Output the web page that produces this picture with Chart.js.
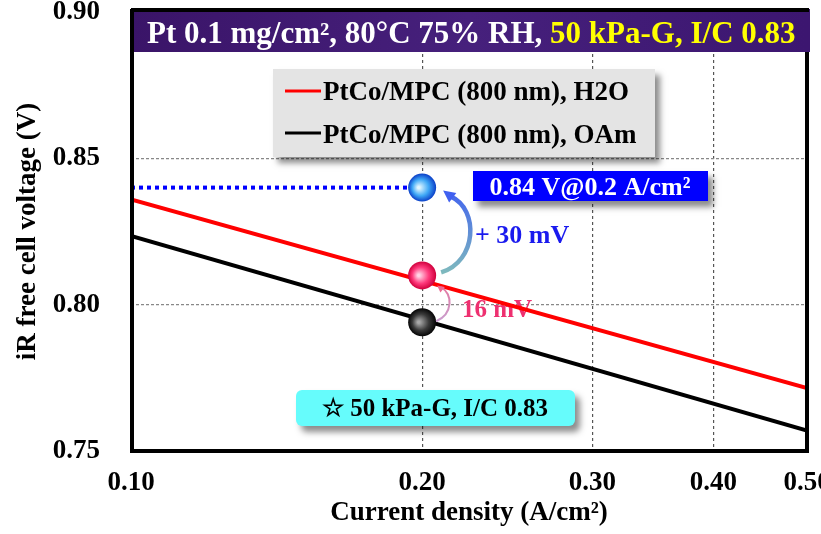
<!DOCTYPE html>
<html>
<head>
<meta charset="utf-8">
<script src="https://cdn.jsdelivr.net/npm/chart.js@4.4.0/dist/chart.umd.min.js"></script>
<style>
  html, body { margin: 0; padding: 0; background: #fff; }
  #wrap { width: 821px; height: 534px; }
</style>
</head>
<body>
<div id="wrap"><canvas id="chart" width="821" height="534"></canvas></div>
<script>
// ─────────────────────────────────────────────────────────────
// DATA
// ─────────────────────────────────────────────────────────────
const xTicks      = [0.10, 0.20, 0.30, 0.40, 0.50];
const xTickLabels = ['0.10', '0.20', '0.30', '0.40', '0.50'];
const yTicks      = [0.75, 0.80, 0.85, 0.90];
const yTickLabels = ['0.75', '0.80', '0.85', '0.90'];

const seriesLabels = ['PtCo/MPC (800 nm), H2O', 'PtCo/MPC (800 nm), OAm'];
const lineX  = [0.10, 0.50];
const h2oV   = [0.836, 0.7715];
const oamV   = [0.8235, 0.757];

const targetX = [0.10, 0.20];
const targetV = [0.84, 0.84];

const markerX = [0.20, 0.20, 0.20];
const markerV = [0.840, 0.810, 0.794];   // target, H2O, OAm

const titleWhite  = 'Pt 0.1 mg/cm\u00B2, 80\u00B0C 75% RH, ';
const titleYellow = '50 kPa-G, I/C 0.83';
const valueNote   = '0.84 V@0.2 A/cm\u00B2';
const gainNote    = '+ 30 mV';
const diffNote    = '16 mV';
const condNote    = '\u2606 50 kPa-G, I/C 0.83';

// ─────────────────────────────────────────────────────────────
// HELPERS
// ─────────────────────────────────────────────────────────────
const SERIF = "'Liberation Serif', 'Times New Roman', serif";
const pts = (xs, ys) => xs.map((x, i) => ({ x, y: ys[i] }));

function noPad(s) {
  s.paddingLeft = 0; s.paddingRight = 0; s.paddingTop = 0; s.paddingBottom = 0;
}

function sphere(ctx, x, y, r, c0, c1, c2) {
  const g = ctx.createRadialGradient(x - r * 0.25, y, r * 0.08, x, y, r);
  g.addColorStop(0, c0);
  g.addColorStop(0.55, c1);
  g.addColorStop(1, c2);
  ctx.beginPath();
  ctx.arc(x, y, r, 0, Math.PI * 2);
  ctx.fillStyle = g;
  ctx.fill();
}

function shadowOn(ctx) {
  ctx.shadowColor = 'rgba(0,0,0,0.45)';
  ctx.shadowBlur = 6;
  ctx.shadowOffsetX = 5;
  ctx.shadowOffsetY = 6;
}

function arrowHead(ctx, x, y, ang, len, wid) {
  ctx.beginPath();
  ctx.moveTo(x, y);
  ctx.lineTo(x - len * Math.cos(ang) + wid * Math.sin(ang), y - len * Math.sin(ang) - wid * Math.cos(ang));
  ctx.lineTo(x - len * Math.cos(ang) - wid * Math.sin(ang), y - len * Math.sin(ang) + wid * Math.cos(ang));
  ctx.closePath();
  ctx.fill();
}

// ─────────────────────────────────────────────────────────────
// DECORATION PLUGIN
// ─────────────────────────────────────────────────────────────
const decor = {
  id: 'decor',
  beforeDatasetsDraw(chart) {
    const { ctx, chartArea: a } = chart;
    ctx.save();

    // title band
    const band = ctx.createLinearGradient(a.left, 0, a.right, 0);
    band.addColorStop(0, '#3a1468');
    band.addColorStop(0.5, '#46207c');
    band.addColorStop(1, '#3c1670');
    ctx.fillStyle = band;
    ctx.fillRect(a.left, 9, a.right - a.left + 3, 43);
    ctx.font = `bold 31px ${SERIF}`;
    ctx.textBaseline = 'alphabetic';
    ctx.textAlign = 'left';
    ctx.fillStyle = '#ffffff';
    ctx.fillText(titleWhite, 147, 43);
    const w = ctx.measureText(titleWhite).width;
    ctx.fillStyle = '#ffff00';
    ctx.fillText(titleYellow, 147 + w, 43);

    // legend box
    ctx.save();
    shadowOn(ctx);
    ctx.fillStyle = '#e4e4e4';
    ctx.fillRect(273, 69, 382, 88);
    ctx.restore();
    ctx.lineWidth = 3;
    ctx.strokeStyle = '#ff0000';
    ctx.beginPath(); ctx.moveTo(285, 91); ctx.lineTo(321, 91); ctx.stroke();
    ctx.strokeStyle = '#000000';
    ctx.beginPath(); ctx.moveTo(285, 133); ctx.lineTo(321, 133); ctx.stroke();
    ctx.font = `bold 27px ${SERIF}`;
    ctx.fillStyle = '#000';
    ctx.fillText(seriesLabels[0], 323, 100);
    ctx.fillText(seriesLabels[1], 323, 143);

    // value box
    ctx.save();
    shadowOn(ctx);
    ctx.fillStyle = '#0000ff';
    ctx.fillRect(473, 171, 235, 30);
    ctx.restore();
    ctx.font = `bold 26px ${SERIF}`;
    ctx.fillStyle = '#ffffff';
    ctx.textAlign = 'center';
    ctx.fillText(valueNote, 590, 195);

    // condition box
    ctx.save();
    shadowOn(ctx);
    ctx.fillStyle = '#66fcfc';
    ctx.beginPath();
    ctx.roundRect(296, 390, 279, 36, 6);
    ctx.fill();
    ctx.restore();
    ctx.fillStyle = '#000';
    ctx.font = `bold 25px ${SERIF}`;
    ctx.fillText(condNote, 435, 416);

    // difference labels
    ctx.textAlign = 'left';
    ctx.font = `bold 26px ${SERIF}`;
    ctx.fillStyle = '#1a1aee';
    ctx.fillText(gainNote, 475, 243);
    ctx.font = `bold 25px ${SERIF}`;
    ctx.fillStyle = '#ee3070';
    ctx.fillText(diffNote, 462, 317);

    ctx.restore();
  },
  afterDatasetsDraw(chart) {
    const { ctx, chartArea: a } = chart;
    const m = chart.getDatasetMeta(3).data;
    const [b, r, k] = m;
    ctx.save();

    // frame
    ctx.strokeStyle = '#000';
    ctx.lineWidth = 4;
    ctx.beginPath();
    ctx.moveTo(a.left + 1, 9);
    ctx.lineTo(a.left + 1, a.bottom);
    ctx.lineTo(a.right, a.bottom);
    ctx.lineTo(a.right, 52);
    ctx.stroke();
    ctx.beginPath();
    ctx.moveTo(a.left, 10);
    ctx.lineTo(a.right + 2, 10);
    ctx.stroke();

    // spheres
    sphere(ctx, b.x, b.y, 14, '#e0f6ff', '#3fa8f6', '#0b3fc8');
    sphere(ctx, r.x, r.y, 14, '#ffd4e6', '#ff3b7d', '#d0003c');
    sphere(ctx, k.x, k.y, 14, '#a8a8a8', '#3a3a3a', '#050505');

    // +30 mV arrow
    const g = ctx.createLinearGradient(0, r.y, 0, b.y);
    g.addColorStop(0, '#80bcbc');
    g.addColorStop(1, '#4060f0');
    ctx.strokeStyle = g;
    ctx.lineWidth = 4.5;
    ctx.beginPath();
    ctx.moveTo(r.x + 19, r.y - 3);
    ctx.bezierCurveTo(r.x + 55, r.y - 14, r.x + 57, b.y + 22, r.x + 29, b.y + 9);
    ctx.stroke();
    ctx.fillStyle = '#4060f0';
    arrowHead(ctx, r.x + 21, b.y + 3, Math.atan2(-6, -8), 12, 6);

    // 16 mV arrow
    const g2 = ctx.createLinearGradient(0, k.y, 0, r.y);
    g2.addColorStop(0, '#c8a0d0');
    g2.addColorStop(1, '#ec6a92');
    ctx.strokeStyle = g2;
    ctx.lineWidth = 2;
    ctx.beginPath();
    ctx.moveTo(k.x + 14, k.y - 1);
    ctx.bezierCurveTo(k.x + 31, k.y - 8, k.x + 31, r.y + 18, k.x + 19, r.y + 12);
    ctx.stroke();
    ctx.fillStyle = '#ec6a92';
    arrowHead(ctx, k.x + 15, r.y + 10, Math.atan2(-4, -5), 7, 3.5);

    ctx.restore();
  }
};

// ─────────────────────────────────────────────────────────────
// CHART
// ─────────────────────────────────────────────────────────────
const tickFont = { family: SERIF, size: 27, weight: 'bold' };

new Chart(document.getElementById('chart'), {
  type: 'line',
  data: {
    datasets: [
      { label: seriesLabels[0], data: pts(lineX, h2oV), borderColor: '#ff0000', borderWidth: 4, pointRadius: 0 },
      { label: seriesLabels[1], data: pts(lineX, oamV), borderColor: '#000000', borderWidth: 4, pointRadius: 0 },
      { label: 'target', data: pts(targetX, targetV), borderColor: '#0000ff', borderWidth: 4, borderDash: [4, 4], pointRadius: 0 },
      { label: 'markers', data: pts(markerX, markerV), showLine: false, pointRadius: 0 },
    ]
  },
  options: {
    responsive: false,
    animation: false,
    layout: { padding: { left: 0, right: 14, top: 12, bottom: 0 }, autoPadding: false },
    plugins: { legend: { display: false }, tooltip: { enabled: false } },
    scales: {
      x: {
        type: 'logarithmic',
        min: 0.1, max: 0.5,
        afterBuildTicks: s => { s.ticks = xTicks.map(v => ({ value: v })); },
        afterFit: s => { s.height = 83; noPad(s); },
        ticks: {
          callback: (v, i) => xTickLabels[i],
          font: tickFont, color: '#000', padding: 16,
          maxRotation: 0, autoSkip: false,
        },
        grid: {
          color: c => (c.index === 0 || c.index === xTicks.length - 1) ? 'rgba(0,0,0,0)' : '#555',
          lineWidth: 1.2, drawTicks: false,
        },
        border: { display: false, dash: [3, 3] },
        title: {
          display: true, text: 'Current density (A/cm\u00B2)', color: '#000',
          font: tickFont, padding: { top: 0, bottom: 5 },
        },
      },
      y: {
        min: 0.75, max: 0.90,
        afterBuildTicks: s => { s.ticks = yTicks.map(v => ({ value: v })); },
        afterFit: s => { s.width = 131; noPad(s); },
        ticks: {
          callback: (v, i) => yTickLabels[i],
          font: tickFont, color: '#000', padding: 31,
        },
        grid: {
          color: c => (c.index === 0 || c.index === yTicks.length - 1) ? 'rgba(0,0,0,0)' : '#888',
          lineWidth: 1.2, drawTicks: false,
        },
        border: { display: false, dash: [3, 2] },
        title: {
          display: true, text: 'iR free cell voltage (V)', color: '#000',
          font: tickFont, padding: { top: 12, bottom: 0 },
        },
      },
    },
  },
  plugins: [decor],
});
</script>
</body>
</html>
